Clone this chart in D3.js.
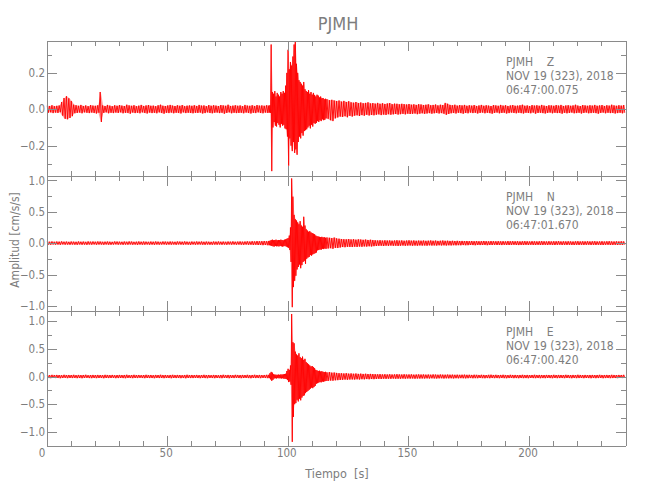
<!DOCTYPE html>
<html><head><meta charset="utf-8">
<script src="https://cdn.jsdelivr.net/npm/d3@7"></script>
<style>
body{margin:0;background:#fff;}
svg text{font-family:"Liberation Sans Narrow","DejaVu Sans Condensed","Liberation Sans",sans-serif;}
</style></head><body>
<svg id="chart" width="650" height="500"></svg>
<script>
// ---------------- DATA ----------------
const stationName = "PJMH";
const components = ["Z", "N", "E"];
const dateLabel = "NOV 19 (323), 2018";
const startTimes = ["06:47:00.075", "06:47:01.670", "06:47:00.420"];
const xDomain = [0, 240];
const xMajorTicks = [0, 50, 100, 150, 200];
const xMinorStep = 10;
const yLimits = [[-0.364, 0.378], [-1.073, 1.077], [-1.246, 1.193]];
const yMajorTicks = [[-0.2, 0, 0.2], [-1, -0.5, 0, 0.5, 1], [-1, -0.5, 0, 0.5, 1]];
const yMinorStep = [0.1, 0.25, 0.25];
const yTitle = "Amplitud [cm/s/s]";
const xTitle = "Tiempo  [s]";

// time bins (s): 1 s before/after the event, 0.5 s during 92–116 s
const bins = [...d3.range(0, 92, 1), ...d3.range(92, 116, 0.5), ...d3.range(116, 240, 1)];

// per-bin envelope (max / min) of each trace, in thousandths of cm/s/s
const zHiPre = [20,18,22,17,19,21,40,62,72,60, 45,25,22,19,24,18,21,17,23,20, 19,22,95,21,18,24,20,17,22,19, 23,20,18,25,21,19,22,17,20,24, 18,21,23,19,20,17,22,25,19,18, 21,24,20,18,22,19,23,17,20,21, 19,22,18,24,20,21,17,23,19,22, 20,18,23,21,19,25,18,20,22,19, 21,17,24,20,19,22,18,23,20,21, 19,22];
const zLoPre = [-19,-17,-21,-18,-20,-16,-35,-52,-55,-48, -38,-22,-20,-18,-22,-17,-19,-21,-18,-20, -23,-19,-70,-20,-17,-22,-19,-21,-18,-20, -17,-22,-19,-20,-24,-18,-21,-19,-22,-17, -20,-23,-18,-21,-19,-22,-17,-20,-24,-19, -21,-18,-22,-19,-20,-23,-17,-21,-19,-20, -22,-19,-20,-18,-23,-21,-17,-20,-22,-19, -18,-21,-19,-24,-20,-17,-22,-19,-21,-20, -19,-22,-18,-20,-23,-19,-21,-17,-20,-22, -18,-20];
const zHiEvt = [20,22,356,95,85,100,70,90,80,70, 95,85,100,90,130,200,327,220,260,240, 290,356,370,250,200,160,150,140,130,150, 110,100,95,105,85,95,80,90,78,70, 80,75,65,70,60,62,55,58];
const zLoEvt = [-18,-20,-340,-100,-70,-90,-95,-75,-85,-100, -80,-90,-85,-105,-110,-150,-310,-160,-200,-230, -180,-240,-220,-250,-180,-150,-160,-130,-145,-120, -115,-110,-100,-90,-105,-85,-95,-75,-80,-75, -65,-70,-60,-65,-55,-60,-58,-50];
const zHiPost = [55,50,52,48,45,48,42,46,40,44, 38,36,40,34,37,33,35,38,32,34, 31,35,30,33,29,32,34,28,31,30, 27,30,28,26,29,25,27,24,28,26, 23,25,27,22,24,26,21,25,23,35, 30,24,22,25,20,23,21,24,19,22, 20,23,18,21,24,19,22,20,18,23, 21,19,24,20,22,18,21,23,19,20, 22,25,19,21,18,23,20,22,19,24, 20,18,22,21,19,23,20,24,18,21, 22,19,21,25,20,18,23,21,19,22, 20,24,19,21,23,18,22,20,25,21, 19,22,20,23];
const zLoPost = [-52,-60,-65,-50,-45,-40,-42,-38,-44,-36, -40,-35,-33,-37,-32,-35,-30,-34,-31,-33, -30,-28,-32,-29,-31,-27,-30,-28,-26,-29, -27,-25,-28,-24,-26,-25,-23,-27,-24,-22, -25,-23,-21,-24,-22,-20,-23,-21,-24,-30, -26,-22,-20,-23,-19,-21,-24,-20,-22,-18, -21,-19,-23,-20,-18,-22,-19,-21,-24,-20, -18,-22,-20,-19,-23,-21,-18,-20,-22,-19, -21,-23,-19,-20,-22,-18,-24,-20,-19,-21, -23,-20,-18,-22,-19,-21,-20,-24,-19,-22, -20,-18,-22,-21,-19,-23,-20,-18,-22,-21, -19,-21,-24,-20,-18,-22,-19,-21,-20,-23, -21,-19,-22,-20];

const nHiPre = [24,22,26,21,25,23,27,22,24,20, 25,23,21,26,22,24,20,27,23,25, 22,26,24,21,23,25,22,20,26,24, 23,21,25,22,27,24,20,23,26,22, 25,23,21,24,22,26,23,20,25,24, 22,25,23,21,26,24,22,27,23,21, 24,22,26,23,25,21,24,22,20,25, 23,26,22,24,21,25,23,27,22,24, 26,23,25,28,24,30,27,32,29,31, 34,30];
const nLoPre = [-23,-25,-21,-24,-22,-26,-20,-24,-23,-25, -22,-24,-26,-21,-25,-23,-27,-22,-24,-20, -25,-22,-23,-26,-21,-24,-25,-23,-20,-24, -22,-26,-23,-24,-21,-25,-23,-27,-22,-24, -24,-21,-25,-23,-26,-22,-24,-23,-21,-25, -23,-24,-22,-26,-21,-23,-25,-22,-24,-27, -21,-25,-23,-22,-24,-26,-22,-24,-25,-23, -24,-22,-25,-23,-26,-21,-24,-22,-25,-23, -25,-27,-23,-26,-24,-28,-26,-30,-28,-32, -30,-33];
const nHiEvt = [35,38,50,55,45,50,55,45,50,48, 55,50,45,55,60,70,80,120,250,1030, 740,450,380,360,330,300,350,280,260,420, 280,220,200,180,190,170,160,150,140,120, 110,105,100,95,100,90,95,85];
const nLoEvt = [-33,-36,-45,-50,-55,-45,-50,-48,-52,-45, -50,-55,-50,-45,-55,-65,-75,-110,-300,-1020, -700,-600,-520,-420,-380,-340,-400,-350,-300,-280, -330,-250,-230,-220,-190,-200,-180,-170,-160,-150, -115,-110,-100,-105,-90,-95,-85,-90];
const nHiPost = [90,85,80,88,75,70,65,62,60,64, 58,62,55,60,57,52,56,50,54,48, 45,42,46,40,44,41,43,39,42,45, 40,43,38,41,44,39,42,37,40,38, 41,36,39,42,37,40,35,38,41,36, 38,35,37,34,36,33,35,32,34,31, 33,30,32,29,31,34,30,28,32,30, 29,31,28,30,27,32,29,31,28,30, 27,29,31,28,26,30,28,27,29,31, 28,26,30,27,29,28,31,26,28,27, 29,27,25,28,30,26,28,27,29,26, 28,30,26,27,29,25,28,30,27,26, 28,26,29,27];
const nLoPost = [-85,-80,-90,-75,-78,-70,-62,-65,-58,-60, -62,-56,-60,-54,-58,-52,-55,-50,-53,-48, -46,-43,-41,-45,-40,-43,-39,-42,-40,-44, -41,-38,-42,-39,-37,-41,-38,-40,-36,-39, -37,-40,-35,-38,-36,-39,-34,-37,-35,-38, -34,-36,-33,-35,-32,-34,-31,-33,-32,-30, -31,-33,-29,-31,-30,-28,-32,-29,-30,-27, -30,-28,-31,-27,-29,-30,-28,-26,-29,-31, -28,-30,-27,-29,-26,-28,-30,-27,-29,-28, -27,-29,-26,-28,-30,-27,-25,-29,-27,-28, -26,-28,-30,-27,-29,-26,-28,-27,-25,-29, -27,-29,-26,-28,-30,-27,-26,-29,-28,-27, -29,-27,-28,-26];

const eHiPre = [28,25,30,26,29,27,24,31,26,28, 27,30,25,29,26,28,31,24,27,29, 26,29,27,25,30,28,26,29,24,27, 29,26,28,31,25,27,30,26,28,25, 27,30,26,28,24,29,27,31,26,28, 25,28,30,26,29,27,24,28,31,26, 28,26,29,25,27,30,26,28,25,29, 27,24,28,31,26,29,27,25,30,28, 26,29,27,30,25,28,31,27,29,26, 28,30];
const eLoPre = [-27,-29,-25,-28,-26,-30,-27,-24,-29,-26, -28,-25,-29,-27,-30,-26,-24,-28,-29,-26, -29,-27,-25,-30,-26,-28,-27,-24,-29,-28, -26,-28,-30,-25,-27,-29,-26,-28,-24,-27, -29,-26,-28,-27,-30,-25,-28,-26,-29,-27, -27,-30,-26,-28,-25,-29,-27,-31,-26,-28, -28,-25,-27,-29,-26,-28,-30,-25,-27,-29, -26,-28,-29,-25,-27,-30,-26,-28,-24,-27, -29,-27,-25,-28,-30,-26,-28,-27,-29,-25, -27,-29];
const eHiEvt = [30,60,84,70,40,35,32,30,35,30, 38,35,40,45,50,100,140,120,200,1130, 620,600,450,400,380,420,350,330,360,300, 320,260,240,220,200,180,190,170,150,120, 110,100,105,90,95,85,80,85];
const eLoEvt = [-28,-50,-78,-60,-35,-30,-35,-28,-32,-30, -35,-30,-38,-40,-45,-60,-100,-90,-150,-1180, -730,-500,-480,-420,-450,-400,-430,-380,-350,-340, -300,-280,-260,-240,-220,-200,-210,-190,-170,-130, -120,-110,-100,-105,-90,-95,-85,-80];
const eHiPost = [75,80,70,72,65,60,58,55,60,52, 56,50,54,48,52,47,50,45,48,44, 42,40,43,38,41,37,40,36,39,42, 38,36,40,35,37,39,34,36,38,35, 37,34,36,33,38,35,32,36,34,33, 35,32,34,31,33,30,32,34,30,31, 29,32,30,28,31,29,27,30,32,28, 30,27,29,31,28,26,30,28,29,27, 28,30,27,29,26,28,31,27,29,28, 27,29,28,26,30,27,29,28,26,30, 28,26,29,27,31,28,26,29,27,28, 29,27,28,30,26,28,29,27,30,28, 27,29,28,30];
const eLoPost = [-80,-72,-75,-68,-65,-62,-60,-55,-58,-54, -52,-55,-50,-53,-48,-51,-46,-49,-45,-47, -43,-41,-44,-39,-42,-38,-41,-37,-40,-38, -39,-36,-38,-35,-37,-34,-38,-35,-36,-34, -36,-33,-35,-32,-34,-36,-33,-31,-35,-32, -33,-31,-34,-30,-32,-29,-31,-33,-30,-28, -31,-29,-30,-27,-29,-31,-28,-30,-27,-29, -28,-30,-27,-29,-31,-28,-26,-29,-28,-30, -27,-29,-28,-30,-26,-28,-29,-27,-30,-28, -29,-27,-28,-30,-26,-29,-28,-27,-29,-26, -28,-30,-27,-29,-28,-26,-29,-27,-28,-30, -27,-29,-28,-26,-30,-28,-27,-29,-28,-27, -29,-27,-28,-26];

const traceHi = [[...zHiPre, ...zHiEvt, ...zHiPost], [...nHiPre, ...nHiEvt, ...nHiPost], [...eHiPre, ...eHiEvt, ...eHiPost]];
const traceLo = [[...zLoPre, ...zLoEvt, ...zLoPost], [...nLoPre, ...nLoEvt, ...nLoPost], [...eLoPre, ...eLoEvt, ...eLoPost]];

// ---------------- LAYOUT ----------------
const svg = d3.select("#chart");
const X0 = 46.5, X1 = 625.5;
const panelTop = [40.5, 175.5, 310.5];
const panelH = 135;
const axisColor = "#8a8a8a", textColor = "#7d7d7d", traceColor = "#ff0000";
const tickFont = "11.5px";

const x = d3.scaleLinear().domain(xDomain).range([X0, X1]);
const fmt = d3.format(".1f");

svg.append("text").attr("x", 338).attr("y", 30).attr("text-anchor", "middle")
  .attr("fill", textColor).style("font-size", "18px").text(stationName);

components.forEach((comp, p) => {
  const top = panelTop[p], bot = top + panelH;
  const y = d3.scaleLinear().domain(yLimits[p]).range([bot, top]);
  const g = svg.append("g");

  const cid = "clip" + p;
  svg.append("clipPath").attr("id", cid).append("rect")
    .attr("x", X0).attr("y", top).attr("width", X1 - X0).attr("height", panelH);

  const hi = traceHi[p], lo = traceLo[p];
  const pts = [], env = [];
  bins.forEach((t, i) => {
    const w = (i < bins.length - 1 ? bins[i + 1] : xDomain[1]) - t;
    if (hi[i] === undefined) return;
    pts.push([t + 0.25 * w, hi[i] / 1000]);
    pts.push([t + 0.75 * w, lo[i] / 1000]);
    env.push([t + 0.5 * w, hi[i] / 1000, lo[i] / 1000]);
  });
  // light envelope fill (the dense oscillations), then the trace itself
  const area = d3.area().x(d => x(d[0])).y0(d => y(d[2])).y1(d => y(d[1]));
  g.append("path").attr("d", area(env)).attr("fill", traceColor).attr("fill-opacity", 0.35)
    .attr("clip-path", `url(#${cid})`);
  const line = d3.line().x(d => x(d[0])).y(d => y(d[1]));
  g.append("path").attr("d", line(pts)).attr("fill", "none")
    .attr("stroke", traceColor).attr("stroke-width", 0.9)
    .attr("clip-path", `url(#${cid})`);

  const st = yMinorStep[p];
  const yMinor = d3.range(Math.ceil(yLimits[p][0] / st - 1e-9), Math.floor(yLimits[p][1] / st + 1e-9) + 1).map(k => +(k * st).toFixed(4));
  const xMinor = d3.range(xDomain[0], xDomain[1] + 1, xMinorStep);

  const styleAxis = sel => {
    sel.selectAll("path.domain").attr("stroke", axisColor).attr("shape-rendering", "crispEdges");
    sel.selectAll(".tick line").attr("stroke", axisColor).attr("shape-rendering", "crispEdges");
    sel.selectAll(".tick text").attr("fill", textColor).style("font-size", tickFont)
      .style("font-family", '"Liberation Sans Narrow","DejaVu Sans Condensed","Liberation Sans",sans-serif');
  };

  g.append("g").attr("transform", `translate(${X0},0)`)
    .call(d3.axisLeft(y).tickValues(yMinor).tickSize(-5).tickSizeOuter(0).tickFormat(""))
    .call(styleAxis);
  g.append("g").attr("transform", `translate(${X0},0)`)
    .call(d3.axisLeft(y).tickValues(yMajorTicks[p]).tickSize(-10).tickSizeOuter(0).tickPadding(1.5).tickFormat(fmt))
    .call(styleAxis);
  g.append("g").attr("transform", `translate(${X1},0)`)
    .call(d3.axisRight(y).tickValues(yMinor).tickSize(-5).tickSizeOuter(0).tickFormat(""))
    .call(styleAxis);
  g.append("g").attr("transform", `translate(${X1},0)`)
    .call(d3.axisRight(y).tickValues(yMajorTicks[p]).tickSize(-10).tickSizeOuter(0).tickFormat(""))
    .call(styleAxis);
  g.append("g").attr("transform", `translate(0,${top})`)
    .call(d3.axisTop(x).tickValues(xMinor).tickSize(-5).tickSizeOuter(0).tickFormat(""))
    .call(styleAxis);
  g.append("g").attr("transform", `translate(0,${top})`)
    .call(d3.axisTop(x).tickValues(xMajorTicks).tickSize(-10).tickSizeOuter(0).tickFormat(""))
    .call(styleAxis);
  g.append("g").attr("transform", `translate(0,${bot})`)
    .call(d3.axisBottom(x).tickValues(xMinor).tickSize(-5).tickSizeOuter(0).tickFormat(""))
    .call(styleAxis);
  const bAx = g.append("g").attr("transform", `translate(0,${bot})`)
    .call(d3.axisBottom(x).tickValues(xMajorTicks).tickSize(-10).tickSizeOuter(0).tickPadding(3.5)
      .tickFormat(p === components.length - 1 ? d3.format("d") : ""))
    .call(styleAxis);
  bAx.selectAll(".tick text").attr("dx", d => d === 0 ? -5 : -1.5);

  const ann = g.append("text").attr("fill", textColor).style("font-size", "12px")
    .attr("xml:space", "preserve").style("white-space", "pre");
  [stationName + "    " + comp, dateLabel, startTimes[p]].forEach((s, k) => {
    ann.append("tspan").attr("x", 506).attr("y", top + 25.5 + k * 14).text(s);
  });
});

svg.append("text").attr("transform", "translate(19,240) rotate(-90)")
  .attr("text-anchor", "middle").attr("fill", textColor).style("font-size", "12px").text(yTitle);
svg.append("text").attr("x", 337).attr("y", 477.5).attr("text-anchor", "middle")
  .attr("fill", textColor).style("font-size", "12.5px").style("white-space", "pre").text(xTitle);
</script>
</body></html>
